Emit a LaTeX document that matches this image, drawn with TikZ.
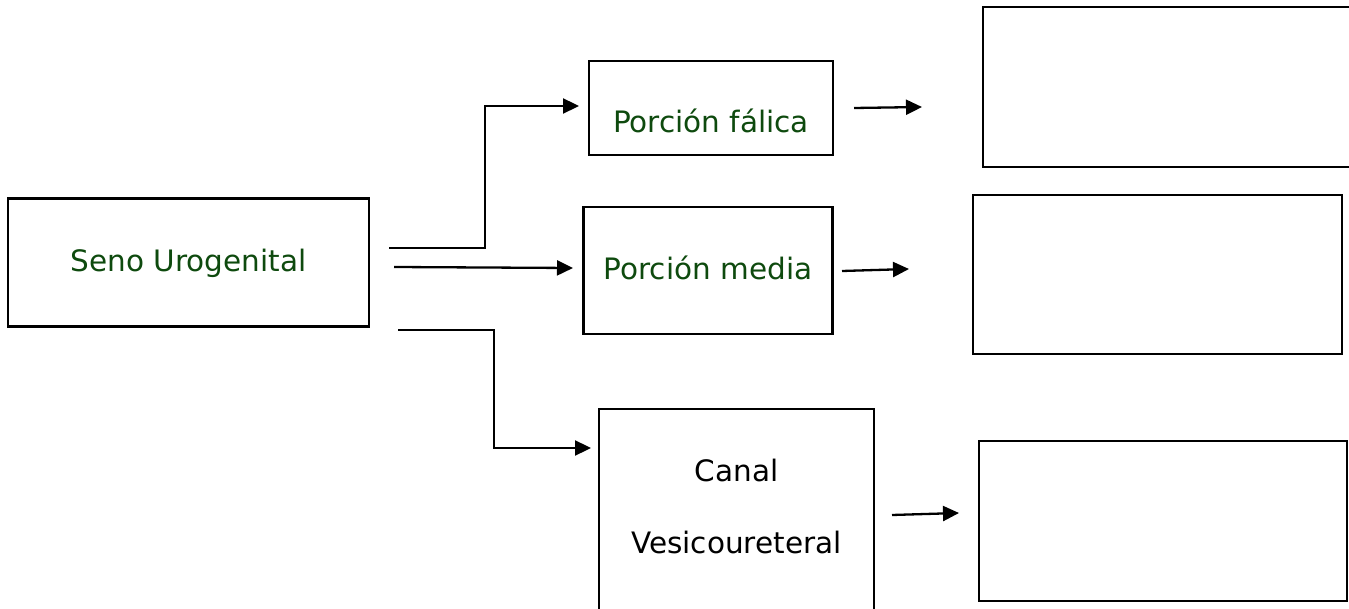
\documentclass[tikz,border=0pt]{standalone}
\usepackage{fontspec}
\setmainfont{DejaVu Sans}
\usetikzlibrary{arrows.meta}
\definecolor{leafgreen}{HTML}{0E4A0E}
\begin{document}
\begin{tikzpicture}[x=1pt,y=-1pt,
  box/.style={draw=black, line width=2.3pt, inner sep=0pt, rectangle},
  lbl/.style={anchor=base, inner sep=0pt, font=\fontsize{29.5}{35}\selectfont, text=leafgreen},
  lblk/.style={lbl, text=black},
  conn/.style={line width=2.3pt, -{Triangle[length=16pt,width=15pt]}},
]
\useasboundingbox (0,0) rectangle (1349,609);
\clip (0,0) rectangle (1349,609);

% boxes
\node[box, minimum width=361pt, minimum height=128pt] (seno)  at (188.5,262.5) {};
\node[box, minimum width=244pt, minimum height=94pt]  (fal)   at (711,108) {};
\node[box, minimum width=249pt, minimum height=127pt] (med)   at (708,270.5) {};
\node[box, minimum width=275pt, minimum height=216pt] (canal) at (736.5,517) {};
\node[box, minimum width=382pt, minimum height=160pt] (r1)    at (1174,87) {};
\node[box, minimum width=369pt, minimum height=159pt] (r2)    at (1157.5,274.5) {};
\node[box, minimum width=368pt, minimum height=160pt] (r3)    at (1163,521) {};

% labels
\node[lbl]  (tseno) at (188.5,272) {Seno Urogenital};
\node[lbl]  (tfal)  at (711,133) {Porción fálica};
\node[lbl]  (tmed)  at (708,280) {Porción media};
\node[lblk] (tcan)  at (736.5,481) {Canal};
\node[lblk] (tves)  at (736.5,553) {Vesicoureteral};

% connector end points
\coordinate (a1s) at (389,248);
\coordinate (a1k) at (485,106);
\coordinate (a1e) at (579,106);
\coordinate (a2s) at (394,267);
\coordinate (a2e) at (573,268);
\coordinate (a3s) at (398,330);
\coordinate (a3k) at (494,448);
\coordinate (a3e) at (591,448);
\coordinate (b1s) at (854,108);
\coordinate (b1e) at (922,107);
\coordinate (b2s) at (842,271);
\coordinate (b2e) at (909,269);
\coordinate (b3s) at (892,515);
\coordinate (b3e) at (959,513);

% connectors
\draw[conn] (a1s) -| (a1k) -- (a1e);
\draw[conn] (a2s) -- (a2e);
\draw[conn] (a3s) -| (a3k) -- (a3e);
\draw[conn] (b1s) -- (b1e);
\draw[conn] (b2s) -- (b2e);
\draw[conn] (b3s) -- (b3e);
\end{tikzpicture}
\end{document}
